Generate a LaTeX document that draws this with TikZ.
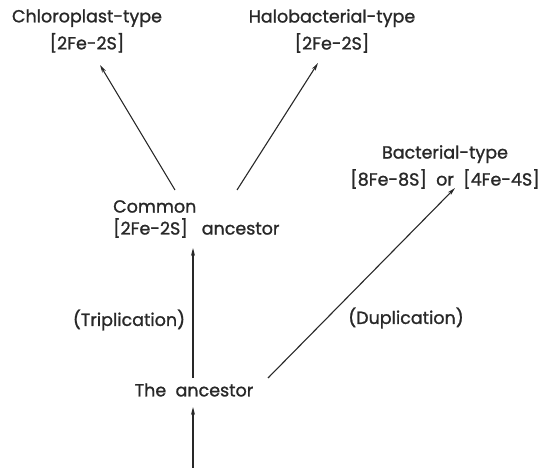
\documentclass[tikz,border=0pt]{standalone}
\usepackage{fontspec}
\setmainfont{Poppins}[UprightFeatures={FakeBold=1.2}]
\usetikzlibrary{arrows.meta, positioning}
\definecolor{InkGray}{RGB}{40, 40, 40}

\begin{document}
\begin{tikzpicture}[
        x=1pt, y=-1pt,
        % Styles des textes
        base/.style={align=center, font=\fontsize{17.5}{27}\selectfont, text=InkGray, inner sep=0pt},
        type_label/.style={base},
        step_label/.style={base, align=left},
        event_label/.style={base},
        % Style des flèches
        arrow/.style={-{Stealth[length=8pt, width=4pt]}, line width=1.1pt, InkGray}
    ]
    \useasboundingbox (0,0) rectangle (552,468);

    % --- TYPES (HAUT) ---
    \node[type_label] (chloro) at (87,31) {Chloroplast-type\\{[2Fe-2S]}};
    \node[type_label] (halo) at (332,31) {Halobacterial-type\\{[2Fe-2S]}};
    \node[type_label] (bact) at (445,167) {Bacterial-type\\{[8Fe-8S]\ \ or\ \ [4Fe-4S]}};

    % --- ANCETRES ---
    \node[step_label, anchor=west, font=\fontsize{17.5}{22}\selectfont] (common) at (113,219) {Common\\{[2Fe-2S]}\ \ \ ancestor};
    \node[event_label] (anc) at (194,390) {The\ \ ancestor};
    \coordinate (origin) at (193,468);

    % --- EVENEMENTS ---
    \node[event_label] (tripl) at (129,320) {(Triplication)};
    \node[event_label] (dupl) at (406,318) {(Duplication)};

    % --- FLECHES ---
    \draw[arrow] ([shift={(62,-29)}]common.west) -- ([shift={(13,34)}]chloro.center);
    \draw[arrow] ([shift={(124,-29)}]common.west) -- ([shift={(-14,32)}]halo.center);
    \draw[arrow] ([shift={(-1,-12)}]anc.center) -- ([shift={(80,29)}]common.west);
    \draw[arrow] ([shift={(74,-12)}]anc.center) -- ([shift={(10,21)}]bact.center);
    \draw[arrow] (origin) -- ([shift={(-1,17)}]anc.center);

\end{tikzpicture}
\end{document}
